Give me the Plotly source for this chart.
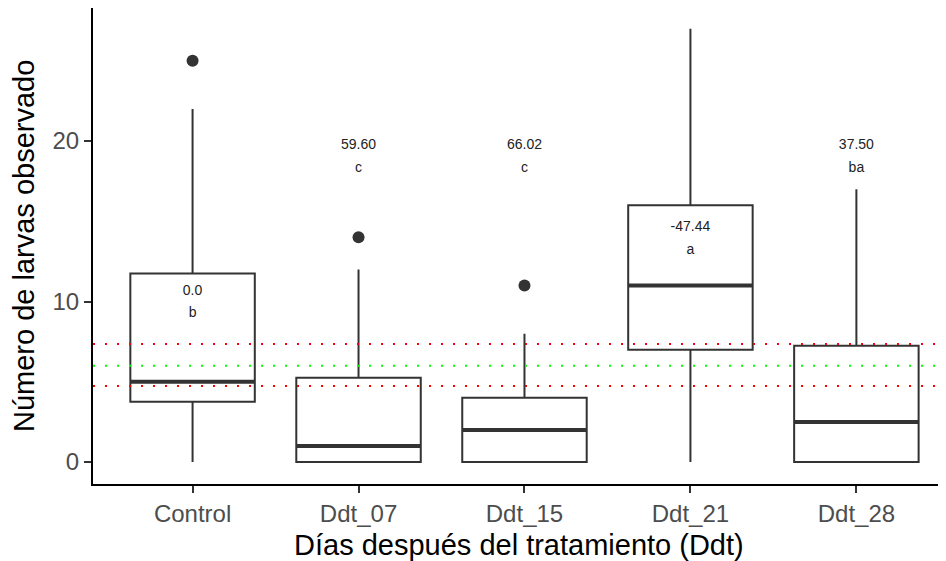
import plotly.graph_objects as go

categories = ["Control", "Ddt_07", "Ddt_15", "Ddt_21", "Ddt_28"]
q1 = [3.75, 0, 0, 7, 0]
median = [5, 1, 2, 11, 2.5]
q3 = [11.75, 5.25, 4, 16, 7.25]
lower = [0, 0, 0, 0, 0]
upper = [22, 12, 8, 27, 17]
outlier_cat = [0, 1, 2]
outlier_val = [25, 14, 11]
pct_labels = ["0.0", "59.60", "66.02", "-47.44", "37.50"]
pct_y = [10.6, 19.7, 19.7, 14.6, 19.7]
letters = ["b", "c", "c", "a", "ba"]
letter_y = [9.25, 18.3, 18.3, 13.2, 18.3]
ref_mean = 6.0
ref_upper = 7.35
ref_lower = 4.73

FONT = "Liberation Sans, Arial, sans-serif"
LINE = "#333333"
BW = 0.75
fig = go.Figure()
for i, c in enumerate(categories):
    fig.add_trace(go.Box(
        x=[i], q1=[q1[i]], median=[median[i]], q3=[q3[i]],
        lowerfence=[lower[i]], upperfence=[upper[i]],
        width=BW, whiskerwidth=0, fillcolor="white",
        line=dict(color=LINE, width=2), boxpoints=False, showlegend=False,
        hoverinfo="skip"))
    fig.add_trace(go.Scatter(
        x=[i - BW / 2, i + BW / 2], y=[median[i], median[i]], mode="lines",
        line=dict(color=LINE, width=4), showlegend=False, hoverinfo="skip"))

fig.add_trace(go.Scatter(
    x=outlier_cat, y=outlier_val, mode="markers",
    marker=dict(color=LINE, size=12), showlegend=False))

fig.add_trace(go.Scatter(
    x=list(range(len(categories))), y=pct_y, text=pct_labels, mode="text",
    textfont=dict(family=FONT, size=14, color="#222222"), showlegend=False))
fig.add_trace(go.Scatter(
    x=list(range(len(categories))), y=letter_y, text=letters, mode="text",
    textfont=dict(family=FONT, size=14, color="#222222"), showlegend=False))

for yv, col in [(ref_upper, "#FF0000"), (ref_mean, "#00FF00"), (ref_lower, "#FF0000")]:
    fig.add_shape(type="line", xref="paper", x0=0, x1=1, yref="y", y0=yv, y1=yv,
                  line=dict(color=col, width=2, dash="2px,10px"), layer="above")

# page body has an 8px margin: shrink the figure so it fits the window
OFF = 8
W, H = 946 - OFF, 561 - OFF
L, R, T, B = 93 - OFF, 0, 0, 561 - 484
B = H - (484 - OFF)
pw, ph = W - L - R, H - T - B

fig.add_annotation(text="Días después del tratamiento (Ddt)", xref="paper", yref="paper",
                   x=(519 - OFF - L) / pw, y=((H - B) - (545 - OFF)) / ph,
                   xanchor="center", yanchor="middle", showarrow=False,
                   font=dict(family=FONT, size=29, color="black"))
fig.add_annotation(text="Número de larvas observado", xref="paper", yref="paper",
                   x=(24 - OFF - L) / pw, y=0.5, textangle=-90,
                   xanchor="center", yanchor="middle", showarrow=False,
                   font=dict(family=FONT, size=29, color="black"))

fig.update_layout(
    width=W, height=H,
    margin=dict(l=L, r=R, t=T, b=B),
    plot_bgcolor="white", paper_bgcolor="white",
    font=dict(family=FONT),
    xaxis=dict(
        range=[-0.6, 4.54], tickmode="array", tickvals=list(range(len(categories))),
        ticktext=categories, showgrid=False, zeroline=False, automargin=False,
        showline=True, linecolor="black", linewidth=2,
        ticks="outside", ticklen=7, tickwidth=1.5, tickcolor=LINE,
        tickfont=dict(size=24, color="#4D4D4D"),
    ),
    yaxis=dict(
        range=[-1.37, 28.29], tickmode="array", tickvals=[0, 10, 20],
        showgrid=False, zeroline=False, automargin=False,
        showline=True, linecolor="black", linewidth=2,
        ticks="outside", ticklen=7, tickwidth=1.5, tickcolor=LINE,
        tickfont=dict(size=24, color="#4D4D4D"),
    ),
)

fig.write_html("out.html")
